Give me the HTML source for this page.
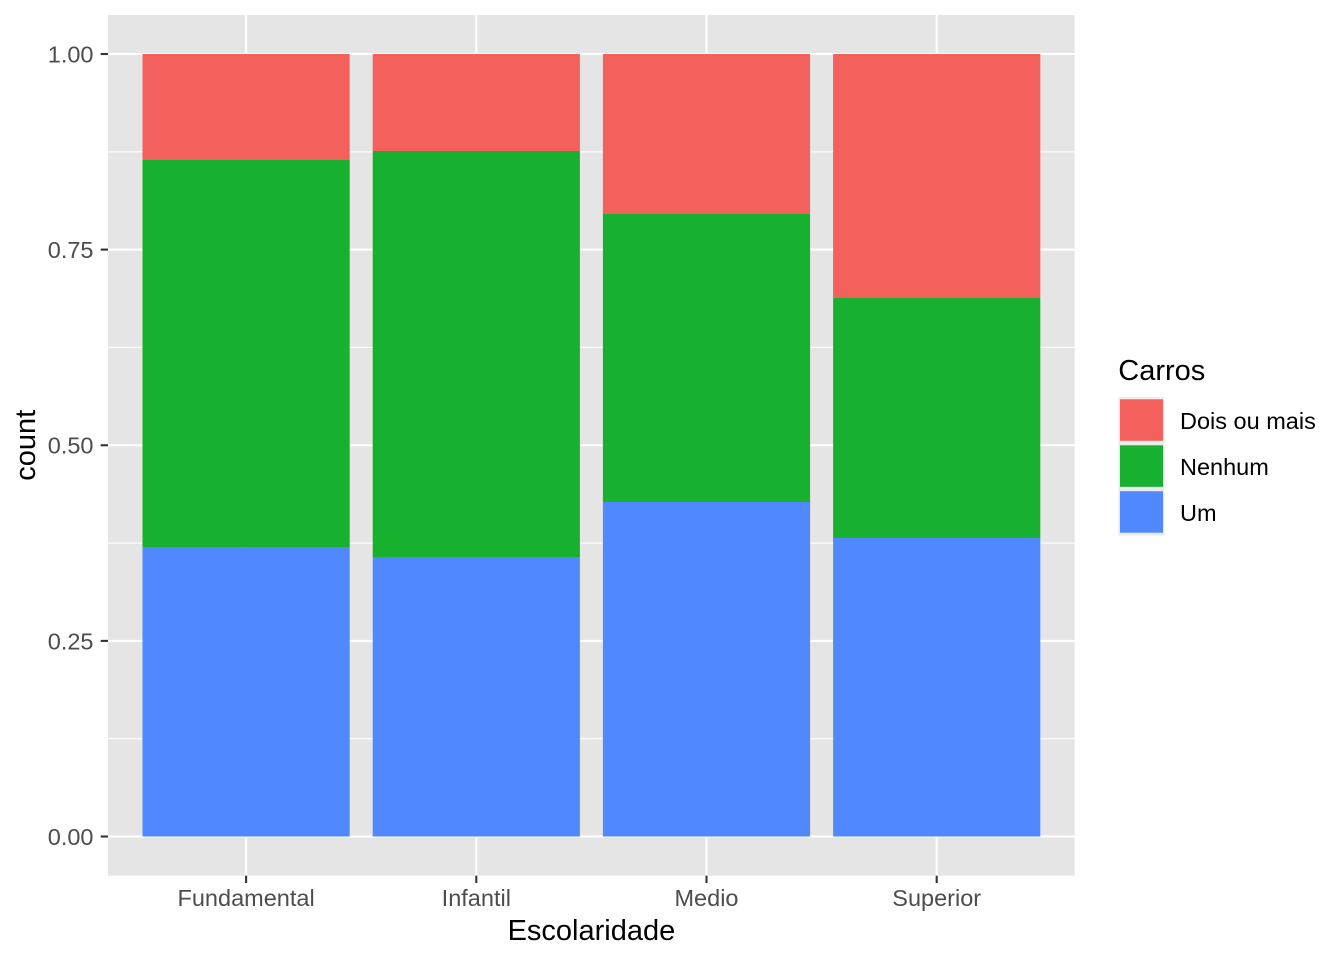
<!DOCTYPE html>
<html><head><meta charset="utf-8"><style>
html,body{margin:0;padding:0;background:#fff;}
svg{display:block;}
text{font-family:"Liberation Sans",Arial,sans-serif;}
</style></head><body>
<svg width="1344" height="960" viewBox="0 0 1344 960" xmlns="http://www.w3.org/2000/svg">
<rect x="0" y="0" width="1344" height="960" fill="#ffffff"/>
<!-- panel -->
<rect x="108" y="15" width="966.7" height="860.7" fill="#E5E5E5"/>
<!-- minor grid -->
<g stroke="#ffffff" stroke-width="1.1">
<line x1="108" x2="1074.7" y1="738.7" y2="738.7"/>
<line x1="108" x2="1074.7" y1="543.1" y2="543.1"/>
<line x1="108" x2="1074.7" y1="347.4" y2="347.4"/>
<line x1="108" x2="1074.7" y1="151.8" y2="151.8"/>
</g>
<!-- major grid -->
<g stroke="#ffffff" stroke-width="2.1">
<line x1="108" x2="1074.7" y1="836.5" y2="836.5"/>
<line x1="108" x2="1074.7" y1="640.9" y2="640.9"/>
<line x1="108" x2="1074.7" y1="445.25" y2="445.25"/>
<line x1="108" x2="1074.7" y1="249.6" y2="249.6"/>
<line x1="108" x2="1074.7" y1="54" y2="54"/>
<line x1="246.1" x2="246.1" y1="15" y2="875.7"/>
<line x1="476.3" x2="476.3" y1="15" y2="875.7"/>
<line x1="706.5" x2="706.5" y1="15" y2="875.7"/>
<line x1="936.7" x2="936.7" y1="15" y2="875.7"/>
</g>
<!-- bars -->
<g>
<rect x="142.5" y="54" width="207.2" height="106" fill="#F4605C"/>
<rect x="142.5" y="160" width="207.2" height="387.7" fill="#18B12F"/>
<rect x="142.5" y="547.7" width="207.2" height="288.8" fill="#5088FF"/>

<rect x="372.7" y="54" width="207.2" height="97" fill="#F4605C"/>
<rect x="372.7" y="151" width="207.2" height="406" fill="#18B12F"/>
<rect x="372.7" y="557" width="207.2" height="279.5" fill="#5088FF"/>

<rect x="602.9" y="54" width="207.2" height="160" fill="#F4605C"/>
<rect x="602.9" y="214" width="207.2" height="288" fill="#18B12F"/>
<rect x="602.9" y="502" width="207.2" height="334.5" fill="#5088FF"/>

<rect x="833.1" y="54" width="207.2" height="244" fill="#F4605C"/>
<rect x="833.1" y="298" width="207.2" height="240" fill="#18B12F"/>
<rect x="833.1" y="538" width="207.2" height="298.5" fill="#5088FF"/>
</g>
<!-- ticks -->
<g stroke="#333333" stroke-width="2.1">
<line x1="100.7" x2="108" y1="836.5" y2="836.5"/>
<line x1="100.7" x2="108" y1="640.9" y2="640.9"/>
<line x1="100.7" x2="108" y1="445.25" y2="445.25"/>
<line x1="100.7" x2="108" y1="249.6" y2="249.6"/>
<line x1="100.7" x2="108" y1="54" y2="54"/>
<line x1="246.1" x2="246.1" y1="875.7" y2="883"/>
<line x1="476.3" x2="476.3" y1="875.7" y2="883"/>
<line x1="706.5" x2="706.5" y1="875.7" y2="883"/>
<line x1="936.7" x2="936.7" y1="875.7" y2="883"/>
</g>
<!-- y tick labels -->
<g fill="#4D4D4D" font-size="23.5" text-anchor="end">
<text x="93.5" y="844.9">0.00</text>
<text x="93.5" y="649.3">0.25</text>
<text x="93.5" y="453.6">0.50</text>
<text x="93.5" y="258">0.75</text>
<text x="93.5" y="62.4">1.00</text>
</g>
<!-- x tick labels -->
<g fill="#4D4D4D" font-size="23.5" text-anchor="middle">
<text x="246.1" y="906">Fundamental</text>
<text x="476.3" y="906">Infantil</text>
<text x="706.5" y="906">Medio</text>
<text x="936.7" y="906">Superior</text>
</g>
<!-- axis titles -->
<text x="591.4" y="940" font-size="29" text-anchor="middle" fill="#000">Escolaridade</text>
<text transform="translate(35,445.3) rotate(-90)" x="0" y="0" font-size="29" text-anchor="middle" fill="#000">count</text>
<!-- legend -->
<text x="1118.3" y="380" font-size="29" fill="#000">Carros</text>
<rect x="1118.3" y="397.3" width="46" height="46.1" fill="#EBEBEB"/>
<rect x="1118.3" y="443.4" width="46" height="46.1" fill="#EBEBEB"/>
<rect x="1118.3" y="489.5" width="46" height="46.1" fill="#EBEBEB"/>
<rect x="1120" y="399.3" width="43" height="41.5" fill="#F4605C"/>
<rect x="1120" y="445.3" width="43" height="41.5" fill="#18B12F"/>
<rect x="1120" y="491.2" width="43" height="41.5" fill="#5088FF"/>
<g fill="#000" font-size="23.5">
<text x="1180" y="428.8">Dois ou mais</text>
<text x="1180" y="474.9">Nenhum</text>
<text x="1180" y="521">Um</text>
</g>
</svg>
</body></html>
